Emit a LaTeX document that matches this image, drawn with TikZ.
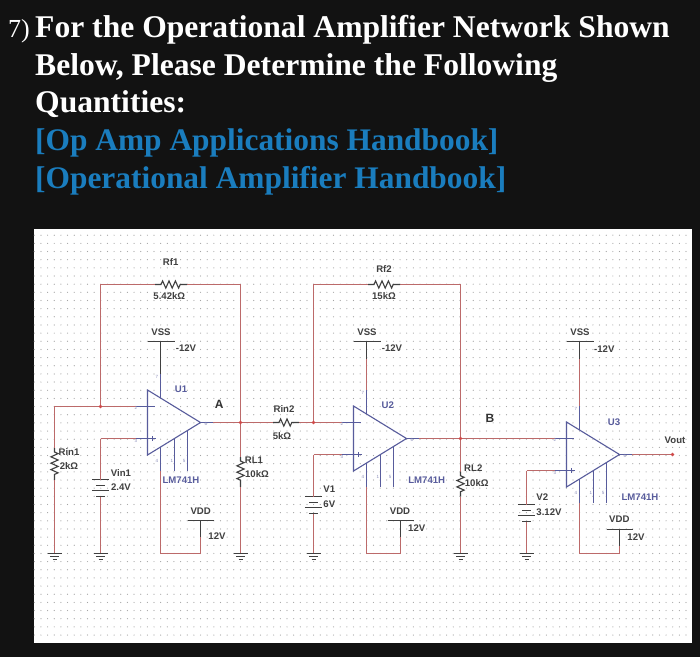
\documentclass[tikz,border=0pt]{standalone}
\usepackage{fontspec}
\setmainfont{Liberation Serif}
\newfontfamily\labelfont{Liberation Sans}
\usetikzlibrary{decorations.pathmorphing}
\definecolor{pagebg}{HTML}{121212}
\definecolor{linkblue}{HTML}{1A7DBE}
\definecolor{wirered}{HTML}{BC6A6A}
\definecolor{ampblue}{HTML}{585C9C}
\definecolor{partgray}{HTML}{404040}
\definecolor{griddot}{HTML}{A4A4A4}
\tikzstyle{heading}=[anchor=base west,inner sep=0pt,text=white,font=\fontsize{31.6}{32}\selectfont\bfseries]
\tikzstyle{linkline}=[heading,text=linkblue,font=\fontsize{31.4}{32}\selectfont\bfseries]
\tikzstyle{part}=[inner sep=0pt,text=partgray,font=\labelfont\bfseries\fontsize{9.6}{10}\selectfont]
\tikzstyle{amplabel}=[part,text=ampblue]
\tikzstyle{pinlabel}=[amplabel,font=\labelfont\fontsize{4.5}{5}\selectfont,text=ampblue!70]
\tikzstyle{wire}=[draw=wirered,line width=1.1pt]
\tikzstyle{partline}=[draw=partgray,line width=1.1pt]
\tikzstyle{amp}=[draw=ampblue,line width=1.1pt]
\tikzstyle{res}=[partline,decorate,decoration={zigzag,segment length=6.4pt,amplitude=3.6pt,pre length=6pt,post length=6pt}]
\tikzstyle{junction}=[circle,fill=wirered!70!red,minimum size=3.6pt,inner sep=0pt]

\begin{document}
\begin{tikzpicture}[x=1pt,y=-1pt]

    \fill[pagebg] (0,0) rectangle (700,657);
    \fill[white] (33.5,229) rectangle (692.3,643);
    \useasboundingbox (0,0) rectangle (700,657);

    % grid
    \foreach \i in {0,...,98}
        \foreach \j in {0,...,49}
            \fill[griddot] (34.3+6.65*\i,235.2+8.16*\j) circle (0.6pt);

    % heading
    \node[heading,font=\fontsize{26}{26}\selectfont] (num) at (8,37.5) {7)};
    \foreach \name/\y/\txt in {hone/37.5/For the Operational Amplifier Network Shown, htwo/75/{Below, Please Determine the Following}, hthree/112.5/Quantities:}
        \node[heading] (\name) at (35,\y) {\txt};
    \foreach \name/\y/\txt in {hfour/150/[Op Amp Applications Handbook], hfive/188/[Operational Amplifier Handbook]}
        \node[linkline] (\name) at (35,\y) {\txt};

    % op amp points
    \foreach \name/\x/\y/\dd/\vb in {ua/147.5/390/53/520.5, ub/353.5/406/47/520.5, uc/566.5/422/53/529.5}
    {
        \coordinate (\name top) at (\x,\y);
        \coordinate (\name bot) at (\x,\y+65);
        \coordinate (\name out) at (\x+53,\y+32.5);
        \coordinate (\name neg) at (\x,\y+16.5);
        \coordinate (\name pos) at (\x,\y+48.5);
        \coordinate (\name nego) at (\x-12,\y+16.5);
        \coordinate (\name poso) at (\x-12,\y+48.5);
        \coordinate (\name negi) at (\x+7,\y+16.5);
        \coordinate (\name posi) at (\x+8,\y+48.5);
        \coordinate (\name plua) at (\x+5,\y+46);
        \coordinate (\name plub) at (\x+5,\y+51);
        \coordinate (\name oute) at (\x+65,\y+32.5);
        \coordinate (\name vsse) at (\x+13,\y+8);
        \coordinate (\name vsss) at (\x+13,\y-16);
        \coordinate (\name vssb) at (\x+13,341.5);
        \coordinate (\name vssl) at (\x,341.5);
        \coordinate (\name vssr) at (\x+27,341.5);
        \coordinate (\name vdde) at (\x+13,\y+57);
        \coordinate (\name vdds) at (\x+13,\y+81);
        \coordinate (\name vddc) at (\x+13,553.5);
        \coordinate (\name vddd) at (\x+\dd,553.5);
        \coordinate (\name vddb) at (\x+\dd,\vb);
        \coordinate (\name vddl) at (\x+\dd-13,\vb);
        \coordinate (\name vddr) at (\x+\dd+13,\vb);
        \coordinate (\name ofaa) at (\x+27,\y+48.4);
        \coordinate (\name ofab) at (\x+27,\y+81);
        \coordinate (\name ofba) at (\x+40,\y+40.5);
        \coordinate (\name ofbb) at (\x+40,\y+81);
    }

    % named points of the network
    \foreach \x/\y/\name in {54.5/406.5/na, 100.5/406.5/nb, 100.5/284.5/nc, 155/284.5/rfaa, 187/284.5/rfab, 240.5/284.5/nd, 240.5/422.5/ne, 273/422.5/rinba, 299/422.5/rinbb, 313.5/422.5/nf, 313.5/284.5/ng, 368/284.5/rfba, 400/284.5/rfbb, 460.5/284.5/nh, 460.5/438.5/ni, 672.5/454.5/vo, 54.5/448/rinaa, 54.5/480/rinab, 240.5/457/rlaa, 240.5/487/rlab, 460.5/471.7/rlba, 460.5/496.7/rlbb, 100.5/438.5/va, 313.5/454.5/vb, 526.5/470.5/vc}
        \coordinate (\name) at (\x,\y);

    % wires
    \draw[wire] (uaneg) -- (na) -- (rinaa);
    \draw[wire] (nb) -- (nc) -- (rfaa);
    \draw[wire] (rfab) -- (nd) -- (ne);
    \draw[wire] (uaout) -- (rinba);
    \draw[wire] (rinbb) -- (ubneg);
    \draw[wire] (nf) -- (ng) -- (rfba);
    \draw[wire] (rfbb) -- (nh) -- (ni);
    \draw[wire] (ubout) -- (ucneg);
    \draw[wire] (ucout) -- (vo);
    \draw[wire] (ne) -- (rlaa);
    \draw[wire] (ni) -- (rlba);
    \draw[wire] (uapos) -- (va);
    \draw[wire] (ubpos) -- (vb);
    \draw[wire] (ucpos) -- (vc);

    % op amps
    \foreach \name in {ua, ub, uc}
    {
        \draw[amp] (\name top) -- (\name out) -- (\name bot) -- cycle;
        \draw[amp] (\name nego) -- (\name negi);
        \draw[amp] (\name poso) -- (\name posi);
        \draw[amp] (\name plua) -- (\name plub);
        \draw[amp] (\name out) -- (\name oute);
        \draw[amp] (\name ofaa) -- (\name ofab);
        \draw[amp] (\name ofba) -- (\name ofbb);
        \draw[wire] (\name vssb) -- (\name vsss);
        \draw[amp] (\name vsss) -- (\name vsse);
        \draw[amp] (\name vdde) -- (\name vdds);
        \draw[wire] (\name vdds) -- (\name vddc) -- (\name vddd) -- (\name vddb);
        \draw[partline] (\name vddb) -- ++(0,16);
        \draw[partline] (\name vssb) -- ++(0,17);
        \draw[partline] (\name vssl) -- (\name vssr);
        \draw[partline] (\name vddl) -- (\name vddr);
    }
    \draw[partline] (uavssb) -- ++(0,32);

    % resistors
    \foreach \a/\b in {rfaa/rfab, rfba/rfbb, rinba/rinbb}
        \draw[res] (\a) -- (\b);
    \foreach \a/\b in {rinaa/rinab, rlaa/rlab, rlba/rlbb}
        \draw[res,decoration={pre length=4pt,post length=4pt}] (\a) -- (\b);

    % batteries
    \foreach \name/\x/\y in {bata/100.5/479.5, batb/313.5/496.5, batc/526.5/504.5}
    {
        \coordinate (\name) at (\x,\y);
        \coordinate (\name e) at (\x,\y+17);
        \draw[partline] (\x-8.7,\y) -- (\x+8.7,\y);
        \draw[partline] (\x-4.5,\y+6) -- (\x+4.5,\y+6);
        \draw[partline] (\x-8.7,\y+11) -- (\x+8.7,\y+11);
        \draw[partline] (\x-4.5,\y+17) -- (\x+4.5,\y+17);
    }
    \draw[wire] (va) -- (bata);
    \draw[wire] (vb) -- (batb);
    \draw[wire] (vc) -- (batc);

    % grounds
    \foreach \x/\name/\from in {54.5/gnda/rinab, 100.5/gndb/batae, 240.5/gndc/rlab, 313.5/gndd/batbe, 460.5/gnde/rlbb, 526.5/gndf/batce}
    {
        \coordinate (\name) at (\x,553.5);
        \draw[wire] (\from) -- (\name);
        \draw[partline] (\x-7,553.5) -- (\x+7,553.5);
        \draw[partline] (\x-4.5,556.5) -- (\x+4.5,556.5);
        \draw[partline] (\x-2,559.5) -- (\x+2,559.5);
    }

    % junctions
    \foreach \name in {nb, ne, nf, ni, vo}
        \node[junction] (j\name) at (\name) {};

    % part labels
    \foreach \name/\x/\y/\txt in {lrfa/170.7/261.7/Rf1, lrfav/169.3/296/5.42kΩ, lrfb/384/269.3/Rf2, lrfbv/384/296/15kΩ, lrina/69/451.7/Rin1, lrinav/69/466/2kΩ, lrinb/284/409/Rin2, lrinbv/282/435.7/5kΩ, lrla/254/460/RL1, lrlav/257/474/10kΩ, lrlb/473.3/468.3/RL2, lrlbv/476.7/482.7/10kΩ, lva/121/472.7/Vin1, lvav/121/487.3/2.4V, lvb/329.3/489.3/V1, lvbv/329.3/504/6V, lvc/542.3/497.3/V2, lvcv/549/512/3.12V, lssa/161/331.7/VSS, lssb/367/331.7/VSS, lssc/580/331.7/VSS, lssav/186/348/-12V, lssbv/392/348.3/-12V, lsscv/604.3/349/-12V, ldda/200.7/511/VDD, lddb/400/511/VDD, lddc/619.3/519.3/VDD, lddav/217/536/12V, lddbv/416.7/528/12V, lddcv/636/536.7/12V, lout/675/440/Vout}
        \node[part] (\name) at (\x,\y) {\txt};
    \foreach \name/\x/\y/\txt in {lua/181/389/U1, lub/387.7/405/U2, luc/614/421.7/U3, lma/181/480/LM741H, lmb/426.7/480/LM741H, lmc/640/496.7/LM741H}
        \node[amplabel] (\name) at (\x,\y) {\txt};
    \node[part,font=\labelfont\bfseries\fontsize{12}{12}\selectfont,text=black!80] (la) at (219.3,404) {A};
    \node[part,font=\labelfont\bfseries\fontsize{12}{12}\selectfont,text=black!80] (lb) at (490,418) {B};

    % pin numbers
    \foreach \name/\x/\y in {ua/147.5/390, ub/353.5/406, uc/566.5/422}
        \foreach \pin/\dx/\dy in {2/-11.6/18, 3/-11.6/50.7, 6/58.4/34, 7/9.4/-13.3, 4/9.4/71, 1/24.4/71, 5/36.7/71}
            \node[pinlabel] (\name pin\pin) at (\x+\dx,\y+\dy) {\pin};

\end{tikzpicture}
\end{document}
